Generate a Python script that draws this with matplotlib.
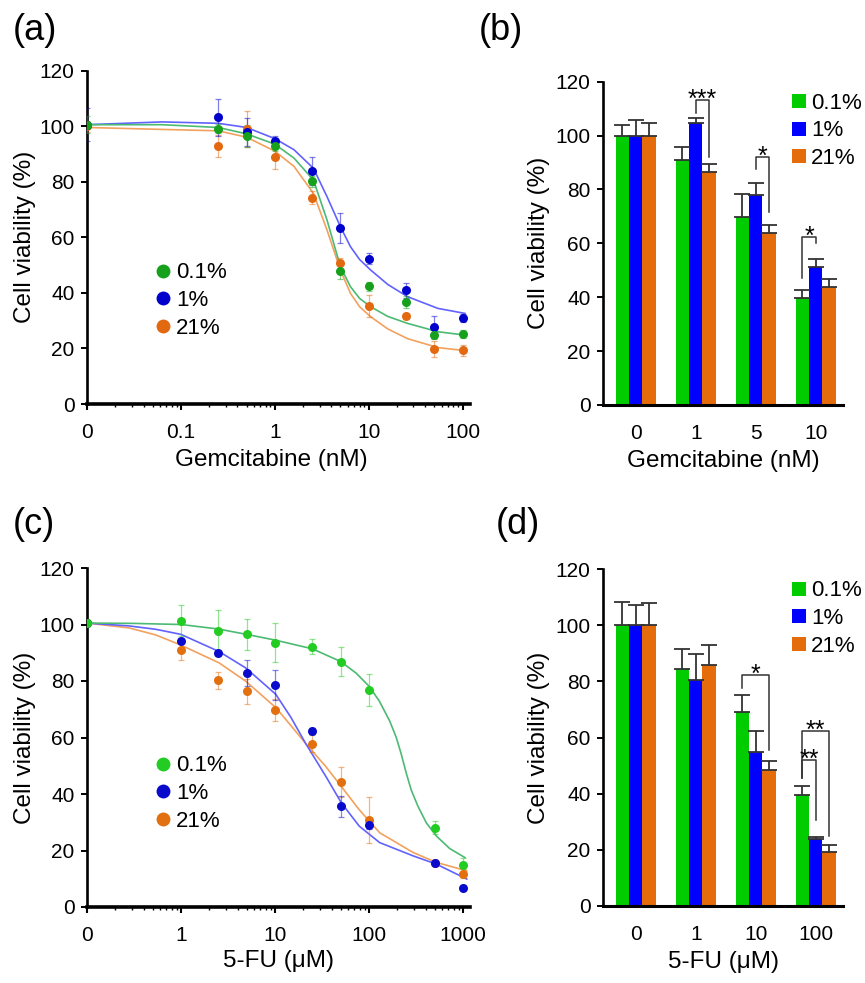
import numpy as np
import matplotlib
matplotlib.use('Agg')
import matplotlib.pyplot as plt
from matplotlib.lines import Line2D
from matplotlib.ticker import LogLocator, NullFormatter, FixedLocator, FixedFormatter

plt.rcParams['font.family'] = ['Liberation Sans', 'DejaVu Sans']

W, H = 865, 983

# oxygen conditions
labels = ['0.1%', '1%', '21%']

# (a) gemcitabine dose response, nM (0 = untreated)
gem_conc = np.array([0, 0.25, 0.5, 1, 2.5, 5, 10, 25, 50, 100])
gem_green = [100.5, 99.1, 96.5, 92.7, 80.2, 47.9, 42.3, 36.7, 25.0, 25.2]
gem_green_err = [3, 1.5, 4, 1.5, 2, 3, 1.5, 2, 1.5, 1.5]
gem_blue = [100.5, 103.1, 97.8, 94.8, 83.9, 63.3, 52.3, 40.9, 27.7, 30.9]
gem_blue_err = [6, 6.7, 5, 1.5, 5, 5.4, 2, 2.8, 4, 1.5]
gem_orange = [100, 92.9, 99, 88.9, 74.3, 50.6, 35.3, 31.7, 19.8, 19.4]
gem_orange_err = [2, 4, 6.5, 4.5, 2.5, 2, 4, 1, 3, 2]

# (a) fitted curves
gem_fit_x = np.array([0, 0.063, 0.25, 0.5, 1, 1.6, 2.58, 3.6, 5, 6.4, 8, 10.5, 16, 26, 54.6, 106])
gem_fit_green = [100.5, 100.5, 99.5, 97.2, 93.5, 88.5, 80.6, 66.2, 49.4, 42.2, 38, 35, 31.5, 29, 26, 24.8]
gem_fit_blue = [100.5, 101.5, 101, 99.5, 95.5, 91.5, 84.8, 74.6, 63.8, 56.6, 52, 48.2, 43, 38.6, 34.4, 32.6]
gem_fit_orange = [99.5, 98.8, 98.3, 96, 91, 85.5, 75.8, 62.6, 48.2, 39.8, 35, 31.4, 27, 23.5, 20.3, 19.2]

# (b) gemcitabine bars
gem_groups = ['0', '1', '5', '10']
gem_bar_green = [100, 91.1, 69.9, 39.9]
gem_bar_green_err = [4, 4.6, 8.6, 2.6]
gem_bar_blue = [100, 104.6, 78.1, 51.1]
gem_bar_blue_err = [5.7, 1.8, 4.4, 3.1]
gem_bar_orange = [100, 86.6, 63.9, 43.9]
gem_bar_orange_err = [4.6, 2.9, 2.8, 2.9]
# (group, series a, series b, bracket top, left end, right end, mark)
gem_sig = [(1, 1, 2, 113.2, 108.3, 92.2, '***'),
           (2, 1, 2, 92.2, 87.5, 71.8, '*'),
           (3, 0, 1, 62.5, 47, 60.3, '*')]

# (c) 5-FU dose response, uM
fu_conc = np.array([0, 1, 2.5, 5, 10, 25, 50, 100, 500, 1000])
fu_green = [100.5, 101.3, 97.7, 96.5, 93.6, 92.2, 86.9, 76.8, 28.0, 14.8]
fu_green_err = [1, 5.5, 7.3, 5.6, 7, 2.7, 5.3, 5.7, 2.3, 2.5]
fu_blue = [100.5, 94.3, 89.8, 82.7, 78.5, 62.4, 35.6, 29, 15.4, 6.9]
fu_blue_err = [1, 1, 1, 4.6, 5.4, 1, 3.8, 1.5, 1, 1]
fu_orange = [100.5, 90.9, 80.2, 76.3, 69.7, 57.8, 44.1, 30.9, 15.5, 11.8]
fu_orange_err = [1, 3.5, 3, 4.3, 3.8, 3, 5.3, 8.2, 1, 1.5]

fu_fit_green_x = np.array([0, 0.3, 1, 2.5, 5, 10, 25, 50, 73, 100, 129, 166, 195, 220, 250, 282, 333, 408, 523, 723, 1050])
fu_fit_green = [100.5, 100.4, 100, 98.4, 96.5, 94.5, 91.4, 86.9, 82.8, 78.2, 72.9, 65.9, 60.1, 54.3, 47.3, 41.4, 35.6, 29.8, 25.1, 20.7, 17.5]
fu_fit_x = np.array([0, 0.28, 0.54, 1, 2.55, 4.9, 10.2, 14.8, 21.3, 35, 51, 79, 130, 295, 520, 1100])
fu_fit_blue = [100.5, 99.5, 98.3, 96.5, 90.4, 84.6, 75.3, 67.1, 57.8, 46.1, 36.8, 28.6, 22.8, 18.1, 15.2, 9.9]
fu_fit_orange = [100.5, 98.8, 96.3, 92.7, 86.4, 79.9, 70.6, 64.2, 57.8, 49.6, 42.6, 34.4, 26.3, 19.3, 15.8, 12.8]

# (d) 5-FU bars
fu_groups = ['0', '1', '10', '100']
fu_bar_green = [100, 84.4, 69, 39.5]
fu_bar_green_err = [8.3, 7.3, 6, 3.3]
fu_bar_blue = [100, 80.5, 54.8, 23.7]
fu_bar_blue_err = [7.1, 9.3, 7.6, 0.9]
fu_bar_orange = [100, 85.9, 48.3, 19.3]
fu_bar_orange_err = [8.1, 7.2, 3.2, 2.5]
fu_sig = [(2, 0, 2, 82.3, 77.5, 55.5, '*'),
          (3, 0, 1, 52, 45.4, 30.6, '**'),
          (3, 0, 2, 62.4, 45.4, 24.9, '**')]

bar_colors = ['#00cc00', '#0000ff', '#e46c0a']
line_colors = ['#4cba72', '#6262ff', '#f2a15e']
dot_colors_a = ['#16a01c', '#0000cc', '#e2690f']
dot_colors_c = ['#22cc22', '#0a0acc', '#e2700f']

TICK_FS = 15
LABEL_FS = 17.5
LEG_FS = 16


def px_axes(fig, left, top, right, bottom):
    return fig.add_axes([left / W, 1 - bottom / H, (right - left) / W, (bottom - top) / H])


def style_y(ax):
    ax.set_ylim(0, 120)
    ax.set_yticks(range(0, 121, 20))
    ax.spines[['top', 'right']].set_visible(False)
    ax.spines['left'].set_linewidth(1.9)
    ax.spines['left'].set_bounds(0, 120)
    ax.tick_params(axis='y', direction='out', length=4, width=1.4, labelsize=TICK_FS, pad=5)
    ax.set_ylabel('Cell viability (%)', fontsize=LABEL_FS)


def curve_panel(ax, conc, zero_pos, ys, errs, fits, xlim, ticks, ticklabels, xlabel, dots, leg_y):
    ax.set_xscale('log')
    for i in [2, 1, 0]:
        fx, fy = fits[i]
        ax.plot(np.where(fx == 0, zero_pos, fx), fy, color=line_colors[i], lw=1.2, zorder=2)
    pos = np.where(conc == 0, zero_pos, conc)
    for i in [2, 1, 0]:
        ax.errorbar(pos, ys[i], yerr=errs[i], fmt='none', ecolor=dots[i], elinewidth=0.9,
                    capsize=2.5, capthick=0.9, alpha=0.5, zorder=3)
        ax.plot(pos, ys[i], 'o', ms=6.5, color=dots[i], mec='none', zorder=4)
    ax.set_xlim(*xlim)
    style_y(ax)
    ax.spines['bottom'].set_linewidth(2.6)
    ax.xaxis.set_major_locator(FixedLocator(ticks))
    ax.xaxis.set_major_formatter(FixedFormatter(ticklabels))
    ax.xaxis.set_minor_locator(LogLocator(base=10, subs=np.arange(2, 10), numticks=20))
    ax.xaxis.set_minor_formatter(NullFormatter())
    ax.tick_params(axis='x', which='major', direction='out', length=4.5, width=1.5,
                   labelsize=TICK_FS, pad=9)
    ax.tick_params(axis='x', which='minor', direction='out', length=2.2, width=1)
    ax.set_xlabel(xlabel, fontsize=LABEL_FS, labelpad=4)
    handles = [Line2D([], [], marker='o', ls='none', ms=10, color=dots[i], mec='none') for i in range(3)]
    ax.legend(handles, labels, loc='upper left', bbox_to_anchor=(0.146, leg_y), frameon=False,
              fontsize=LEG_FS, borderpad=0, handlelength=0.8, handletextpad=0.2, labelspacing=0.3)
    ax.yaxis.set_label_coords(-0.132, 0.5)


def bar_panel(ax, groups, vals, errs, sigs, xlabel):
    n = len(groups)
    x = np.arange(n)
    w = 0.222
    for i in range(3):
        ax.bar(x + (i - 1) * w, vals[i], w, color=bar_colors[i], label=labels[i],
               yerr=[np.zeros(n), errs[i]],
               error_kw=dict(ecolor='#333333', elinewidth=1.3, capsize=5.5, capthick=1.3))
    for g, a, b, top, ya, yb, mark in sigs:
        xa = g + (a - 1) * w
        xb = g + (b - 1) * w
        ax.plot([xa, xa, xb, xb], [ya, top, top, yb], color='#333333', lw=1.1)
        ax.text((xa + xb) / 2, top - 2.6, mark, ha='center', va='baseline', fontsize=18)
    ax.set_xlim(-0.545, 3.455)
    style_y(ax)
    ax.spines['bottom'].set_linewidth(2.2)
    ax.set_xticks(x)
    ax.set_xticklabels(groups)
    ax.tick_params(axis='x', length=0, labelsize=TICK_FS, pad=14)
    ax.set_xlabel(xlabel, fontsize=LABEL_FS, labelpad=5)
    ax.legend(loc='upper left', bbox_to_anchor=(0.742, 1.0), frameon=False, fontsize=LEG_FS,
              borderpad=0, handlelength=0.6, handleheight=0.6, handletextpad=0.25, labelspacing=0.3)
    ax.yaxis.set_label_coords(-0.222, 0.5)


fig = plt.figure(figsize=(W / 100, H / 100), dpi=100)

ax_a = px_axes(fig, 87, 70.5, 470, 404)
curve_panel(ax_a, gem_conc, 0.01,
            [gem_green, gem_blue, gem_orange],
            [gem_green_err, gem_blue_err, gem_orange_err],
            [(gem_fit_x, gem_fit_green), (gem_fit_x, gem_fit_blue), (gem_fit_x, gem_fit_orange)],
            (0.01, 120), [0.01, 0.1, 1, 10, 100], ['0', '0.1', '1', '10', '100'],
            'Gemcitabine (nM)', dot_colors_a, 0.458)
ax_a.xaxis.set_label_coords(0.48, -0.135)

ax_b = px_axes(fig, 603, 81.7, 843, 405)
bar_panel(ax_b, gem_groups,
          [gem_bar_green, gem_bar_blue, gem_bar_orange],
          [gem_bar_green_err, gem_bar_blue_err, gem_bar_orange_err],
          gem_sig, 'Gemcitabine (nM)')

ax_c = px_axes(fig, 87, 568, 470, 907)
curve_panel(ax_c, fu_conc, 0.1,
            [fu_green, fu_blue, fu_orange],
            [fu_green_err, fu_blue_err, fu_orange_err],
            [(fu_fit_green_x, fu_fit_green), (fu_fit_x, fu_fit_blue), (fu_fit_x, fu_fit_orange)],
            (0.1, 1190), [0.1, 1, 10, 100, 1000], ['0', '1', '10', '100', '1000'],
            '5-FU (\u03bcM)', dot_colors_c, 0.48)

ax_d = px_axes(fig, 603, 569.3, 843, 905.7)
bar_panel(ax_d, fu_groups,
          [fu_bar_green, fu_bar_blue, fu_bar_orange],
          [fu_bar_green_err, fu_bar_blue_err, fu_bar_orange_err],
          fu_sig, '5-FU (\u03bcM)')

for txt, xp, yp in [('(a)', 13, 30), ('(b)', 479, 30), ('(c)', 13, 525), ('(d)', 496, 525)]:
    fig.text(xp / W, 1 - yp / H, txt, fontsize=26, ha='left', va='center')

fig.savefig('out.png', dpi=100, facecolor='white')
